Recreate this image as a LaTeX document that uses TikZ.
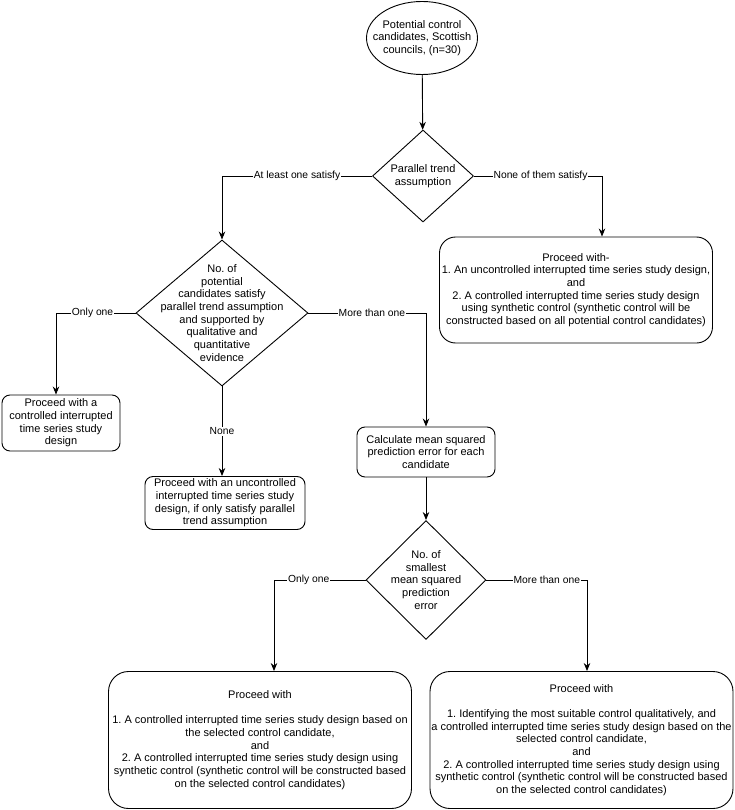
\documentclass[tikz,border=0pt]{standalone}
\usepackage{fontspec}
\setmainfont{Liberation Sans}
\frenchspacing
\usetikzlibrary{shapes.geometric}
\usetikzlibrary{arrows.meta}

\tikzset{
  txt/.style={font=\fontsize{11}{12.7}\selectfont, align=center, inner sep=1pt},
  decision/.style={draw, diamond, line width=0.9pt, inner sep=0pt},
  start/.style={draw, ellipse, line width=0.9pt, inner sep=0pt},
  outcome/.style={draw, rectangle, line width=0.9pt, txt, inner sep=1pt, rounded corners=8pt},
  flow/.style={line width=0.9pt, -{Stealth[length=8pt,width=6.5pt]}},
  edgelabel/.style={font=\fontsize{10.3}{12}\selectfont, fill=white, inner sep=1pt}
}

\begin{document}
\begin{tikzpicture}[x=1pt,y=-1pt]
\useasboundingbox (0,0) rectangle (735,810);

%start
\node[start, minimum width=111pt, minimum height=73pt] (pool) at (422,38) {};
\node[txt] at (pool) {Potential control\\candidates, Scottish\\councils, (n=30)};

%decyzje
\node[decision, minimum width=101pt, minimum height=92pt] (trend) at (423,176) {};
\node[txt] at (trend) {Parallel trend\\assumption};
\node[decision, minimum width=172pt, minimum height=146pt] (count) at (222,313) {};
\node[txt] at (count) {No. of\\potential\\candidates satisfy\\parallel trend assumption\\and supported by\\qualitative and\\quantitative\\evidence};
\node[decision, minimum width=120pt, minimum height=119pt] (smallest) at (426,580) {};
\node[txt] at (smallest) {No. of\\smallest\\mean squared\\prediction\\error};

%wyniki
\node[outcome, minimum width=273pt, minimum height=106pt, rounded corners=16pt] (allbox) at (576,290)
  {Proceed with-\\1. An uncontrolled interrupted time series study design,\\and\\2. A controlled interrupted time series study design\\using synthetic control (synthetic control will be\\constructed based on all potential control candidates)};
\node[outcome, minimum width=118pt, minimum height=56pt] (single) at (61,423)
  {Proceed with a\\controlled interrupted\\time series study\\design};
\node[outcome, minimum width=160pt, minimum height=53pt] (nocand) at (225,503)
  {Proceed with an uncontrolled\\interrupted time series study\\design, if only satisfy parallel\\trend assumption};
\node[outcome, minimum width=138pt, minimum height=50pt] (msep) at (426,452)
  {Calculate mean squared\\prediction error for each\\candidate};
\node[outcome, minimum width=303pt, minimum height=137pt, rounded corners=20pt] (onebox) at (260,740)
  {Proceed with\\[12.7pt]1. A controlled interrupted time series study design based on\\the selected control candidate,\\and\\2. A controlled interrupted time series study design using\\synthetic control (synthetic control will be constructed based\\on the selected control candidates)};
\node[outcome, minimum width=303pt, minimum height=137pt, rounded corners=20pt] (morebox) at (581.5,740)
  {Proceed with\\[12.7pt]1. Identifying the most suitable control qualitatively, and\\a controlled interrupted time series study design based on the\\selected control candidate,\\and\\2. A controlled interrupted time series study design using\\synthetic control (synthetic control will be constructed based\\on the selected control candidates)};

%strzalki
\draw[flow] (pool) -- (trend);
\draw[flow] (trend.west) -| node[edgelabel, pos=0.25] {At least one satisfy} (count.north);
\draw[flow] (trend.east) -| node[edgelabel, pos=0.26] {None of them satisfy} ([xshift=26pt]allbox.north);
\draw[flow] (count.west) -| node[edgelabel, pos=0.27] {Only one} ([xshift=-5pt]single.north);
\draw[flow] (count.south) -- node[edgelabel] {None} (count.south |- nocand.north);
\draw[flow] (count.east) -| node[edgelabel, pos=0.27] {More than one} (msep.north);
\draw[flow] (msep) -- (smallest);
\draw[flow] (smallest.west) -| node[edgelabel, pos=0.31] {Only one} ([xshift=14pt]onebox.north);
\draw[flow] (smallest.east) -| node[edgelabel, pos=0.3] {More than one} ([xshift=5.5pt]morebox.north);

%koniec
\end{tikzpicture}
\end{document}
